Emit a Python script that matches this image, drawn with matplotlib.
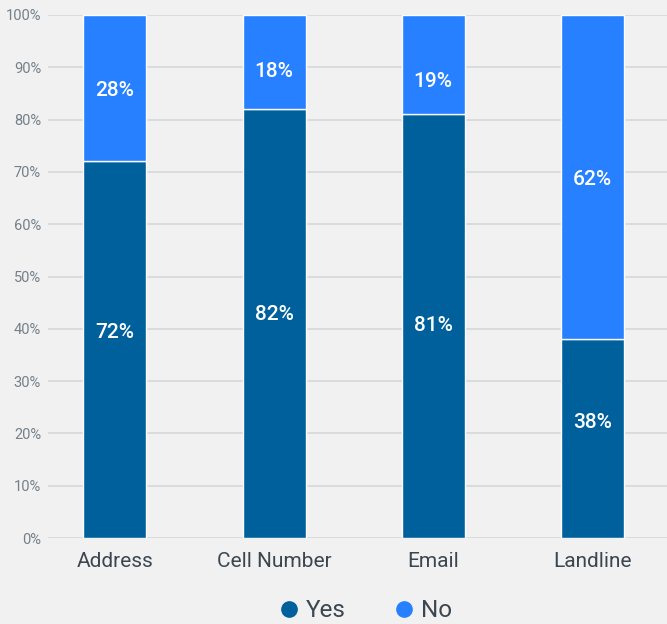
import matplotlib.pyplot as plt
from matplotlib.lines import Line2D

# data
categories = ['Address', 'Cell Number', 'Email', 'Landline']
yes_pct = [72, 82, 81, 38]
no_pct = [28, 18, 19, 62]

# small vertical nudges (in % units) so the labels sit where the original puts them
yes_nudge = [3.2, 1.8, 0.2, 3.0]
no_nudge = [-0.4, -1.8, -3.3, -0.5]

yes_color = '#00609c'
no_color = '#2680ff'
bg = '#f0f1f0'

plt.rcParams['font.family'] = ['Roboto', 'DejaVu Sans']

fig = plt.figure(figsize=(6.67, 6.24), dpi=100, facecolor=bg)
ax = fig.add_axes([48 / 667, 86 / 624, 619 / 667, 523 / 624], facecolor=bg)

x = range(len(categories))
ax.bar(x, yes_pct, width=0.396, color=yes_color, edgecolor='white', linewidth=1, zorder=3)
ax.bar(x, no_pct, width=0.396, bottom=yes_pct, color=no_color, edgecolor='white', linewidth=1, zorder=3)

# percentage labels in each segment
for i in x:
    ax.text(i, yes_pct[i] / 2 + yes_nudge[i], f'{yes_pct[i]}%', ha='center', va='center',
            color='white', fontsize=15, fontweight='medium', zorder=4)
    ax.text(i, yes_pct[i] + no_pct[i] / 2 + no_nudge[i], f'{no_pct[i]}%', ha='center', va='center',
            color='white', fontsize=15, fontweight='medium', zorder=4)

ax.set_xlim(-0.421, 3.469)
ax.set_ylim(0, 100)
ax.set_yticks(range(0, 101, 10))
ax.set_yticklabels([f'{v}%' for v in range(0, 101, 10)])
ax.set_xticks(list(x))
ax.set_xticklabels(categories)
ax.yaxis.grid(True, color='#d5d8dc', linewidth=1.2, zorder=0)
ax.tick_params(axis='y', length=0, pad=5, labelsize=10.5, labelcolor='#75808a')
ax.tick_params(axis='x', length=0, pad=10, labelsize=15, labelcolor='#3c4650')
for s in ax.spines.values():
    s.set_visible(False)

handles = [
    Line2D([], [], marker='o', linestyle='', markersize=11, color=yes_color, label='Yes'),
    Line2D([], [], marker='o', linestyle='', markersize=11, color=no_color, label='No'),
]
fig.legend(handles=handles, loc='center', bbox_to_anchor=(0.548, 0.021), ncol=2, frameon=False,
           fontsize=17.5, labelcolor='#3c4650', handlelength=0.8, handletextpad=0.3,
           columnspacing=2.0)

fig.savefig('out.png', dpi=100, facecolor=bg)
